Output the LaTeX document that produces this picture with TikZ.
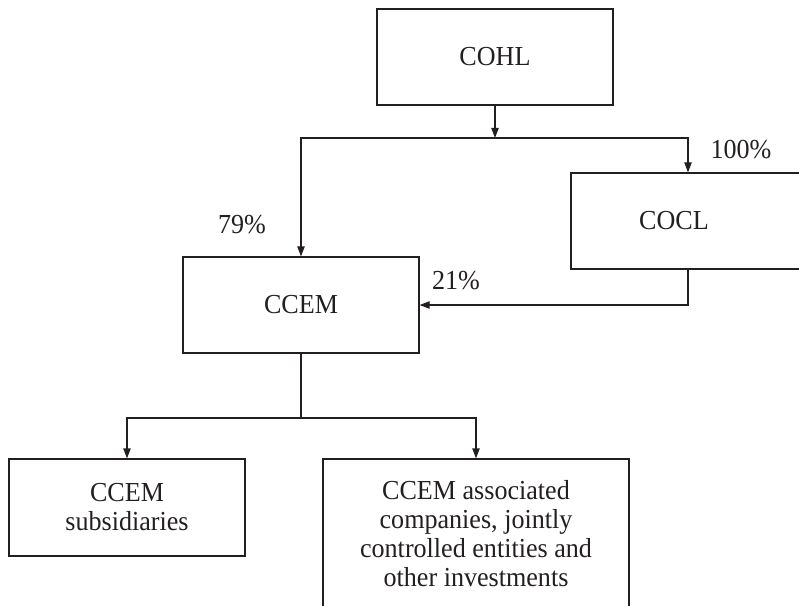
\documentclass[tikz,border=0pt]{standalone}
\usepackage{fontspec}
\setmainfont[FakeStretch=0.95]{Liberation Serif}
\usetikzlibrary{arrows.meta}
\definecolor{ink}{HTML}{231F20}
\begin{document}
\begin{tikzpicture}[x=0.75pt,y=-0.75pt,
		font=\fontsize{20.6pt}{21.75pt}\selectfont,
		every node/.style={text=ink},
		box/.style={draw=ink, line width=0.9pt, minimum width=177pt, minimum height=72pt, align=center, inner sep=0pt},
		arr/.style={draw=ink, line width=0.9pt, -{Triangle[length=7.5pt,width=5.5pt]}},
		link/.style={draw=ink, line width=0.9pt},
		pct/.style={inner sep=0pt}]
	% Frame
	\useasboundingbox (0,0) rectangle (799,606);
	\clip (0,0) rectangle (799,606);
	
	% Companies
	\node[box] (cohl) at (495,57) {COHL};
	\node[box, minimum width=175.5pt, label={[name=cocltext, xshift=-10.5pt]center:COCL}] (cocl) at (688,221) {};
	\node[box] (ccem) at (301,305) {CCEM};
	\node[box, minimum height=72.75pt] (subs) at (127,507.5) {CCEM\\subsidiaries};
	\node[box, minimum width=229.5pt, minimum height=112.5pt] (assoc) at (476,534)
		{CCEM associated\\companies, jointly\\controlled entities and\\other investments};
	
	% Holdings
	\coordinate (split) at (cohl.south |- 0,138);
	\coordinate (fork) at (ccem.south |- 0,418);
	\draw[arr] (cohl) -- (split);
	\draw[arr] (split) -| (ccem);
	\draw[arr] (split) -| (cocl);
	\draw[arr] (cocl) |- (ccem);
	\draw[link] (ccem) -- (fork);
	\draw[arr] (fork) -| (subs);
	\draw[arr] (fork) -| (assoc);
	
	% Shares
	\node[pct] (p79) at (242,225) {79\%};
	\node[pct] (p21) at (456,281) {21\%};
	\node[pct] (p100) at (741,150) {100\%};
\end{tikzpicture}
\end{document}
